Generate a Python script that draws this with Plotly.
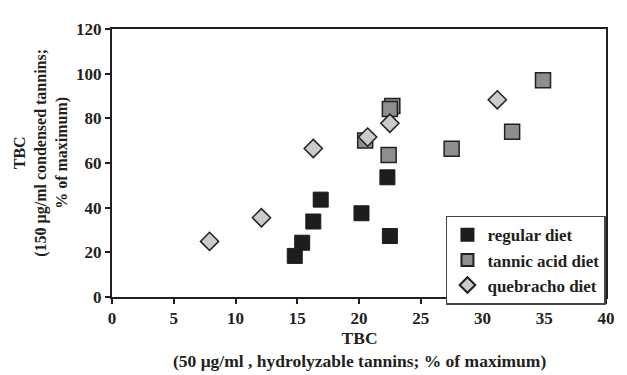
import plotly.graph_objects as go

# Data
regular_x = [14.8, 15.4, 16.3, 16.9, 20.2, 22.3, 22.5]
regular_y = [18.4, 24.3, 33.8, 43.6, 37.5, 53.6, 27.3]

tannic_x = [20.5, 22.7, 22.5, 22.4, 27.5, 32.4, 34.9]
tannic_y = [70.1, 85.5, 84.2, 63.6, 66.4, 74.0, 97.0]

quebracho_x = [7.9, 12.1, 16.3, 20.7, 22.5, 31.2]
quebracho_y = [24.9, 35.5, 66.5, 71.6, 77.8, 88.3]

x_ticks = [0, 5, 10, 15, 20, 25, 30, 35, 40]
y_ticks = [0, 20, 40, 60, 80, 100, 120]

FONT = "Liberation Serif"
INK = "#231f20"
# The page body adds an 8px margin, so the figure is drawn 8px smaller
W, H = 619, 367
L, R, T, B = 104, 15, 12, 78
PW, PH = W - L - R, H - T - B

fig = go.Figure()
fig.add_trace(go.Scatter(
    x=regular_x, y=regular_y, mode="markers", name="regular diet",
    marker=dict(symbol="square", size=15, color="#1e1c1d",
                line=dict(color="#1e1c1d", width=1))))
fig.add_trace(go.Scatter(
    x=tannic_x, y=tannic_y, mode="markers", name="tannic acid diet",
    marker=dict(symbol="square", size=15, color="#8e8e90",
                line=dict(color=INK, width=1.5))))
fig.add_trace(go.Scatter(
    x=quebracho_x, y=quebracho_y, mode="markers", name="quebracho diet",
    marker=dict(symbol="diamond", size=14, color="#cbcbcc",
                line=dict(color=INK, width=1.5))))

def bold(size):
    return dict(family=FONT, size=size, color=INK, weight="bold")

fig.update_layout(
    width=W, height=H,
    margin=dict(l=L, r=R, t=T, b=B),
    paper_bgcolor="white", plot_bgcolor="white",
    font=bold(17),
    showlegend=True,
    legend=dict(x=(450 - 8 - L) / PW, y=(289 - 205) / PH,
                xanchor="left", yanchor="top",
                bgcolor="white", bordercolor="#444", borderwidth=1.5,
                font=bold(17),
                itemsizing="constant", tracegroupgap=0,
                itemwidth=30),
    xaxis=dict(range=[0, 40], tickvals=x_ticks,
               showgrid=False, zeroline=False,
               showline=True, linecolor=INK, linewidth=2, mirror=True,
               ticks="outside", ticklen=5, tickcolor=INK, tickwidth=1.5,
               tickfont=bold(17)),
    yaxis=dict(range=[0, 120], tickvals=y_ticks,
               showgrid=False, zeroline=False,
               showline=True, linecolor=INK, linewidth=2, mirror=True,
               ticks="outside", ticklen=5, tickcolor=INK, tickwidth=1.5,
               tickfont=bold(17)),
)

fig.add_annotation(
    xref="paper", yref="paper",
    x=(362 - 8 - L) / PW, y=(289 - 343) / PH,
    text="TBC<br>(50 μg/ml , hydrolyzable tannins; % of maximum)",
    showarrow=False, xanchor="center", yanchor="middle",
    font=bold(17.5))

fig.add_annotation(
    xref="paper", yref="paper",
    x=(40 - 8 - L) / PW, y=(289 - 140) / PH,
    text="TBC<br>(150 μg/ml condensed tannins;<br>% of maximum)",
    showarrow=False, xanchor="center", yanchor="middle", textangle=-90,
    font=bold(16))

fig.write_html("out.html")
